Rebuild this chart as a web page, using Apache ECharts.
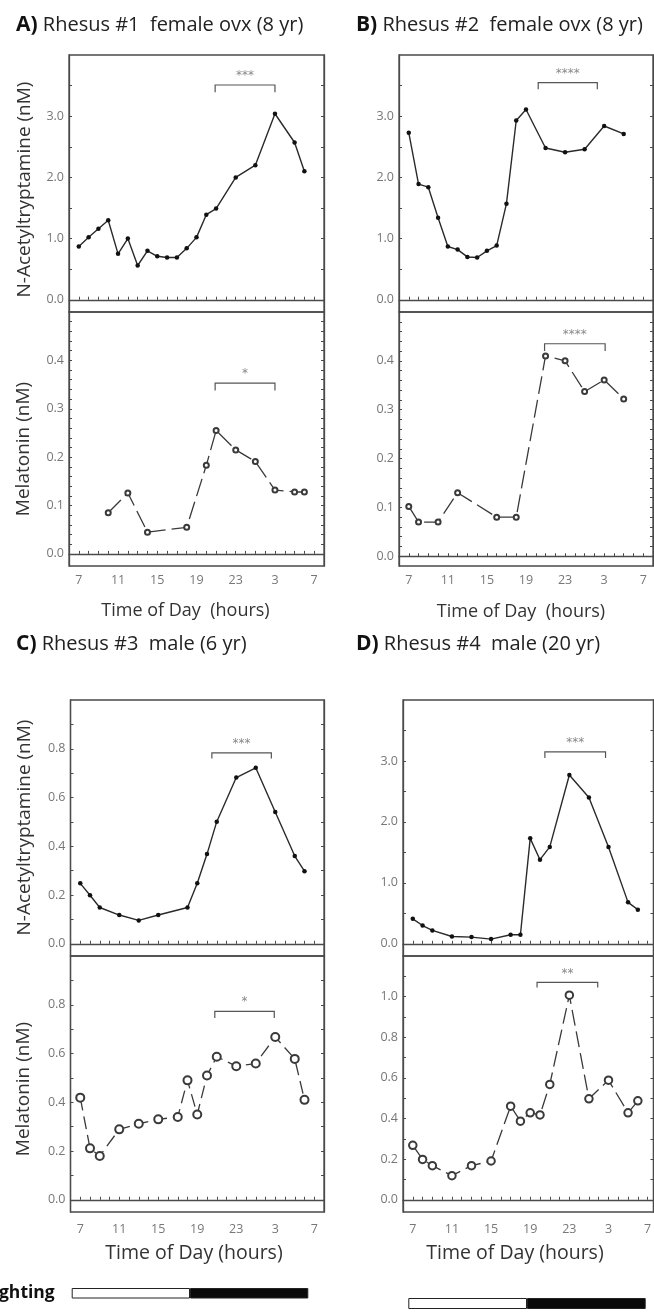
<!DOCTYPE html>
<html><head><meta charset="utf-8">
<script src="https://cdn.jsdelivr.net/npm/echarts@6/dist/echarts.min.js"></script>
<style>html,body{margin:0;padding:0;background:#fff}#c{width:654px;height:1313px}</style>
</head><body><div id="c"></div>
<script>
// ---------------- DATA ----------------
// x values are hours of day; hours after midnight are written as 24+h (e.g. 27 = 3 am)
const natHoursA = [7,8,9,10,11,12,13,14,15,16,17,18,19,20,21,23,25,27,29,30];
const natA      = [0.87,1.02,1.16,1.30,0.75,1.00,0.56,0.80,0.71,0.69,0.69,0.84,1.02,1.39,1.49,2.00,2.20,3.04,2.57,2.10];
const melHoursA = [10,12,14,18,20,21,23,25,27,29,30];
const melA      = [0.085,0.126,0.045,0.055,0.183,0.255,0.215,0.191,0.132,0.128,0.128];

const natHoursB = [7,8,9,10,11,12,13,14,15,16,17,18,19,21,23,25,27,29];
const natB      = [2.73,1.89,1.84,1.34,0.87,0.82,0.70,0.69,0.80,0.885,1.57,2.93,3.11,2.48,2.41,2.46,2.84,2.71];
const melHoursB = [7,8,10,12,16,18,21,23,25,27,29];
const melB      = [0.102,0.070,0.070,0.130,0.080,0.080,0.410,0.400,0.337,0.361,0.322];

const natHoursC = [7,8,9,11,13,15,18,19,20,21,23,25,27,29,30];
const natC      = [0.248,0.199,0.149,0.118,0.096,0.118,0.149,0.248,0.368,0.501,0.682,0.722,0.541,0.360,0.298];
const melHoursC = [7,8,9,11,13,15,17,18,19,20,21,23,25,27,29,30];
const melC      = [0.419,0.211,0.180,0.289,0.312,0.330,0.340,0.490,0.350,0.510,0.587,0.548,0.559,0.668,0.578,0.410];

const natHoursD = [7,8,9,11,13,15,17,18,19,20,21,23,25,27,29,30];
const natD      = [0.41,0.30,0.22,0.12,0.11,0.077,0.148,0.148,1.73,1.38,1.59,2.77,2.40,1.59,0.68,0.56];
const melHoursD = [7,8,9,11,13,15,17,18,19,20,21,23,25,27,29,30];
const melD      = [0.268,0.199,0.168,0.119,0.168,0.191,0.461,0.387,0.428,0.418,0.568,1.007,0.497,0.589,0.428,0.487];

// significance brackets: [startHour, endHour, level, tickBottom, stars]
const sigA_nat = [20.9, 27, 3.51, 3.39, '***'];
const sigA_mel = [20.9, 27, 0.353, 0.338, '*'];
const sigB_nat = [20.25, 26.3, 3.55, 3.44, '****'];
const sigB_mel = [20.9, 27.1, 0.435, 0.42, '****'];
const sigC_nat = [20.5, 26.6, 0.783, 0.76, '***'];
const sigC_mel = [20.8, 26.9, 0.773, 0.746, '*'];
const sigD_nat = [20.5, 26.7, 3.15, 3.05, '***'];
const sigD_mel = [19.7, 25.9, 1.07, 1.045, '**'];

// tick labels / tick positions
const xTickHours  = [6,7,8,9,10,11,12,13,14,15,16,17,18,19,20,21,22,23,24,25,26,27,28,29,30,31];
const xLabelHours = [7,11,15,19,23,27,31];
const natLabelsBig = [0,1,2,3];
const natTicksBig  = [0,0.5,1,1.5,2,2.5,3,3.5];
const melLabelsSmall = [0,0.1,0.2,0.3,0.4];
const melTicksSmall  = [0,0.02,0.04,0.06,0.08,0.1,0.12,0.14,0.16,0.18,0.2,0.22,0.24,0.26,0.28,0.3,0.32,0.34,0.36,0.38,0.4,0.42,0.44,0.46,0.48];
const labels0to08 = [0,0.2,0.4,0.6,0.8];
const ticks0to09  = [0,0.1,0.2,0.3,0.4,0.5,0.6,0.7,0.8,0.9];
const labels0to1  = [0,0.2,0.4,0.6,0.8,1.0];
const ticks0to11  = [0,0.1,0.2,0.3,0.4,0.5,0.6,0.7,0.8,0.9,1.0,1.1];

// lighting schedule (hours)
const lightPhases = ['light','dark'];
const lightHours  = [12, 12];

// ---------------- BUILD ----------------
const FONT = '"Open Sans", "DejaVu Sans", sans-serif';
const FRAME = '#4a4a4a';
const grids = [], xAxes = [], yAxes = [], series = [], graphics = [];

function xAxisCfg(gi, showLabels, margin, xMax) {
  return {
    type: 'value', gridIndex: gi, min: 6, max: xMax, position: 'bottom',
    splitLine: {show: false},
    axisLine: {show: true, lineStyle: {color: FRAME, width: 1.3}},
    axisTick: {show: true, inside: true, length: 3, customValues: xTickHours, lineStyle: {color: FRAME, width: 1}},
    axisLabel: {show: showLabels, customValues: xLabelHours, margin: margin,
      formatter: v => String(Math.round(v) % 24), color: '#777', fontSize: 12.5, fontFamily: FONT}
  };
}
function yAxisCfg(gi, min, max, labels, ticks, pos) {
  return {
    type: 'value', gridIndex: gi, min: min, max: max, position: pos,
    splitLine: {show: false},
    axisLine: {show: true, onZero: false, lineStyle: {color: FRAME, width: 1.3}},
    axisTick: {show: true, inside: true, length: 3, customValues: ticks, lineStyle: {color: FRAME, width: 1}},
    axisLabel: {show: pos === 'left', customValues: labels, margin: 5,
      formatter: v => v.toFixed(1), color: '#777', fontSize: 12.5, fontFamily: FONT}
  };
}
function bracketSeries(xi, yi, sig) {
  return {
    type: 'custom', xAxisIndex: xi, yAxisIndex: yi, silent: true, z: 3,
    data: [sig],
    renderItem: function (params, api) {
      const x0 = api.value(0), x1 = api.value(1), y = api.value(2), yb = api.value(3);
      const p0 = api.coord([x0, y]), p1 = api.coord([x1, y]);
      const b0 = api.coord([x0, yb]), b1 = api.coord([x1, yb]);
      return {type: 'group', children: [
        {type: 'polyline', shape: {points: [b0, p0, p1, b1]}, style: {stroke: '#555', lineWidth: 1.2, fill: null}},
        {type: 'text', style: {text: sig[4], x: (p0[0] + p1[0]) / 2, y: p0[1] - 3, align: 'center', verticalAlign: 'bottom',
          fill: '#888', fontSize: 12, fontFamily: 'DejaVu Sans', letterSpacing: 1}}
      ]};
    }
  };
}
function addPanel(p) {
  const gi = grids.length;
  grids.push({left: p.left, top: p.top, width: p.width, height: p.hUp, show: true, borderColor: FRAME, borderWidth: 1.3, backgroundColor: 'transparent', outerBoundsMode: 'none'});
  grids.push({left: p.left, top: p.top + p.hUp, width: p.width, height: p.hLow, show: true, borderColor: FRAME, borderWidth: 1.3, backgroundColor: 'transparent', outerBoundsMode: 'none'});
  xAxes.push(xAxisCfg(gi, false, 8, p.xMax));
  xAxes.push(xAxisCfg(gi + 1, true, p.xMargin, p.xMax));
  const yiU = yAxes.length;
  yAxes.push(yAxisCfg(gi, p.up.min, p.up.max, p.up.labels, p.up.ticks, 'left'));
  yAxes.push(yAxisCfg(gi, p.up.min, p.up.max, p.up.labels, p.up.ticks, 'right'));
  const yiL = yAxes.length;
  yAxes.push(yAxisCfg(gi + 1, p.low.min, p.low.max, p.low.labels, p.low.ticks, 'left'));
  yAxes.push(yAxisCfg(gi + 1, p.low.min, p.low.max, p.low.labels, p.low.ticks, 'right'));
  series.push({
    type: 'line', xAxisIndex: gi, yAxisIndex: yiU, z: 4,
    data: p.natHours.map((h, i) => [h, p.nat[i]]),
    symbol: 'circle', symbolSize: 4.5, showSymbol: true,
    lineStyle: {color: '#2a2a2a', width: 1.4},
    itemStyle: {color: '#111'}
  });
  series.push({
    type: 'line', xAxisIndex: gi + 1, yAxisIndex: yiL, z: 4,
    data: p.melHours.map((h, i) => [h, p.mel[i]]),
    symbol: 'emptyCircle', symbolSize: p.melSym, showSymbol: true,
    lineStyle: {color: '#3a3a3a', width: 1.3, type: p.dash},
    itemStyle: {color: '#3a3a3a', borderWidth: 1.1}
  });
  series.push(bracketSeries(gi, yiU, p.sigUp));
  series.push(bracketSeries(gi + 1, yiL, p.sigLow));
}

addPanel({left: 69, top: 55, width: 255, hUp: 257, hLow: 254, xMargin: 8, xMax: 32,
  natHours: natHoursA, nat: natA, melHours: melHoursA, mel: melA, melSym: 5, dash: [18, 6],
  up: {min: -0.2, max: 4.0, labels: natLabelsBig, ticks: natTicksBig},
  low: {min: -0.025, max: 0.5, labels: melLabelsSmall, ticks: melTicksSmall},
  sigUp: sigA_nat, sigLow: sigA_mel});
addPanel({left: 399, top: 55, width: 254, hUp: 257, hLow: 254, xMargin: 8, xMax: 32,
  natHours: natHoursB, nat: natB, melHours: melHoursB, mel: melB, melSym: 5, dash: [18, 6],
  up: {min: -0.2, max: 4.0, labels: natLabelsBig, ticks: natTicksBig},
  low: {min: -0.02, max: 0.5, labels: melLabelsSmall, ticks: melTicksSmall},
  sigUp: sigB_nat, sigLow: sigB_mel});
addPanel({left: 70.5, top: 700, width: 253.5, hUp: 256, hLow: 256, xMargin: 11, xMax: 32,
  natHours: natHoursC, nat: natC, melHours: melHoursC, mel: melC, melSym: 8, dash: [13, 6],
  up: {min: -0.05, max: 1.0, labels: labels0to08, ticks: ticks0to09},
  low: {min: -0.05, max: 1.0, labels: labels0to08, ticks: ticks0to09},
  sigUp: sigC_nat, sigLow: sigC_mel});
addPanel({left: 403, top: 700, width: 250.5, hUp: 256, hLow: 256, xMargin: 11, xMax: 31.6,
  natHours: natHoursD, nat: natD, melHours: melHoursD, mel: melD, melSym: 7.5, dash: [16, 6],
  up: {min: -0.2, max: 4.0, labels: natLabelsBig, ticks: natTicksBig},
  low: {min: -0.06, max: 1.2, labels: labels0to1, ticks: ticks0to11},
  sigUp: sigD_nat, sigLow: sigD_mel});

// lighting bars
function addLighting(left, top, width, height, showLabel) {
  const gi = grids.length;
  grids.push({left: left, top: top, width: width, height: height, outerBoundsMode: 'none'});
  xAxes.push({type: 'value', gridIndex: gi, min: 0, max: 24, show: false});
  const yi = yAxes.length;
  yAxes.push({type: 'category', gridIndex: gi, data: ['Lighting'],
    axisLine: {show: false}, axisTick: {show: false},
    axisLabel: {show: showLabel, margin: 17, fontWeight: 'bold', fontSize: 17.5, color: '#111', fontFamily: FONT}});
  lightPhases.forEach((ph, i) => {
    series.push({type: 'bar', xAxisIndex: gi, yAxisIndex: yi, stack: 'light' + gi, barWidth: '100%',
      data: [lightHours[i]], silent: true,
      itemStyle: {color: ph === 'light' ? '#fff' : '#0a0a0a', borderColor: '#222', borderWidth: 1}});
  });
}
addLighting(71.7, 1288, 236.6, 10.5, true);
addLighting(408.3, 1298, 237.4, 11, false);

// titles
function title(x, y, letter, rest) {
  graphics.push({type: 'text', x: x, y: y, style: {
    text: '{b|' + letter + '} ' + rest, verticalAlign: 'middle', fill: '#222', fontSize: 20, fontFamily: FONT,
    rich: {b: {fontWeight: 'bold', fontSize: 21, fontFamily: FONT, fill: '#111'}}}});
}
title(16, 25, 'A)', 'Rhesus #1  female ovx (8 yr)');
title(356, 25, 'B)', 'Rhesus #2  female ovx (8 yr)');
title(16, 644, 'C)', 'Rhesus #3  male (6 yr)');
title(356, 644, 'D)', 'Rhesus #4  male (20 yr)');

function vname(x, y, txt) {
  graphics.push({type: 'text', x: x, y: y, rotation: Math.PI / 2, style: {
    text: txt, align: 'center', verticalAlign: 'middle', fill: '#333', fontSize: 19, fontFamily: FONT}});
}
vname(25, 189.5, 'N-Acetyltryptamine (nM)');
vname(23.5, 449, 'Melatonin (nM)');
vname(25, 827.5, 'N-Acetyltryptamine (nM)');
vname(23.5, 1089, 'Melatonin (nM)');

function hname(x, y, txt, fs) {
  graphics.push({type: 'text', x: x, y: y, style: {
    text: txt, align: 'center', verticalAlign: 'middle', fill: '#333', fontSize: fs, fontFamily: FONT}});
}
hname(185.5, 611, 'Time of Day  (hours)', 18);
hname(521, 611.5, 'Time of Day  (hours)', 18);
hname(194, 1253, 'Time of Day (hours)', 19.5);
hname(515, 1253, 'Time of Day (hours)', 19.5);

const chart = echarts.init(document.getElementById('c'), null, {renderer: 'canvas'});
chart.setOption({
  animation: false,
  backgroundColor: '#fff',
  grid: grids, xAxis: xAxes, yAxis: yAxes, series: series, graphic: graphics
});
</script></body></html>
